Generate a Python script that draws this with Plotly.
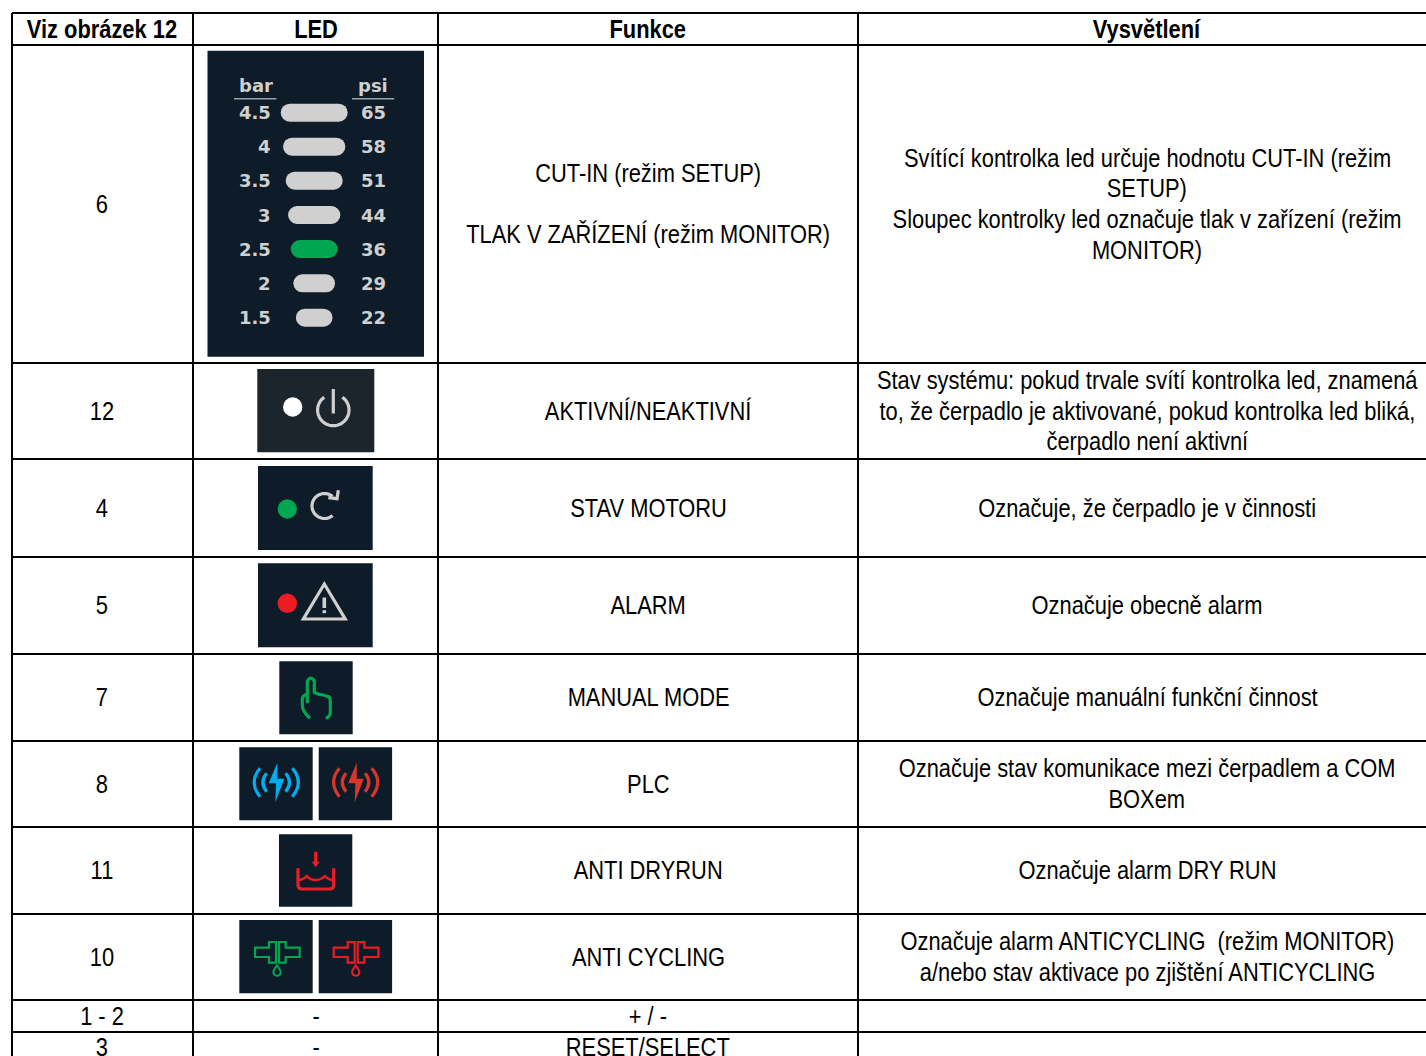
import re, math
import plotly.graph_objects as go

FONT = "Liberation Sans"
col_edges = [12, 193, 438, 858, 1440]
row_edges = [13, 45, 363, 459, 557, 654, 741, 827, 914, 1000, 1032, 1062]
headers = ["Viz obrázek 12", "LED", "Funkce", "Vysvětlení"]
refs = ["6", "12", "4", "5", "7", "8", "11", "10", "1 - 2", "3"]
led_col = ["", "", "", "", "", "", "", "", "-", "-"]
funkce = [
    ["CUT-IN (režim SETUP)", "", "TLAK V ZAŘÍZENÍ (režim MONITOR)"],
    ["AKTIVNÍ/NEAKTIVNÍ"], ["STAV MOTORU"], ["ALARM"], ["MANUAL MODE"], ["PLC"],
    ["ANTI DRYRUN"], ["ANTI CYCLING"], ["+ / -"], ["RESET/SELECT"],
]
vysvetleni = [
    ["Svítící kontrolka led určuje hodnotu CUT-IN (režim", "SETUP)",
     "Sloupec kontrolky led označuje tlak v zařízení (režim", "MONITOR)"],
    ["Stav systému: pokud trvale svítí kontrolka led, znamená",
     "to, že čerpadlo je aktivované, pokud kontrolka led bliká,", "čerpadlo není aktivní"],
    ["Označuje, že čerpadlo je v činnosti"],
    ["Označuje obecně alarm"],
    ["Označuje manuální funkční činnost"],
    ["Označuje stav komunikace mezi čerpadlem a COM", "BOXem"],
    ["Označuje alarm DRY RUN"],
    ["Označuje alarm ANTICYCLING  (režim MONITOR)", "a/nebo stav aktivace po zjištění ANTICYCLING"],
    [""], [""],
]
bar_labels = ["4.5", "4", "3.5", "3", "2.5", "2", "1.5"]
psi_labels = ["65", "58", "51", "44", "36", "29", "22"]
led_y = [112.7, 146.7, 180.7, 215, 249, 283.3, 317.7]
led_len = [67, 62.3, 57, 52.3, 47, 41.7, 36.7]

DARK, DARK2, GREY = "#0d1c28", "#1c242c", "#d0d0d0"
GREEN, RED, BLUE, RED2 = "#00a651", "#ed1c24", "#00aeef", "#d9362a"
led_colors = [GREY, GREY, GREY, GREY, GREEN, GREY, GREY]

fig = go.Figure()
shapes, ann = [], []

def zp(ox, oy, s):
    """path written in zoomed (3x) local coordinates"""
    i = [0]
    def rep(m):
        v = float(m.group(0)) / 3 + (ox if i[0] % 2 == 0 else oy)
        i[0] += 1
        return f"{v:.2f}"
    return re.sub(r"-?\d+(\.\d+)?", rep, s)

def P(path, color=None, fill=None, w=3.2):
    shapes.append(dict(type="path", path=path, xref="x", yref="y", layer="above",
                       line=dict(color=color or "rgba(0,0,0,0)", width=w if color else 0),
                       fillcolor=fill or "rgba(0,0,0,0)"))

def panel(x0, y0, x1, y1, c=DARK):
    shapes.append(dict(type="rect", x0=x0, x1=x1, y0=y0, y1=y1, xref="x", yref="y", layer="below",
                       fillcolor=c, line=dict(width=0)))

def arc(cx, cy, r, a0, a1, n=40):
    pts = [(cx + r * math.sin(math.radians(a0 + (a1 - a0) * k / n)),
            cy - r * math.cos(math.radians(a0 + (a1 - a0) * k / n))) for k in range(n + 1)]
    return "M " + " L ".join(f"{x:.2f} {y:.2f}" for x, y in pts)

# grid
for x in col_edges[:-1]:
    shapes.append(dict(type="line", x0=x, x1=x, y0=row_edges[0], y1=1056, xref="x", yref="y",
                       layer="below", line=dict(color="black", width=2)))
for y in row_edges[:-1]:
    shapes.append(dict(type="line", x0=col_edges[0], x1=1426, y0=y, y1=y, xref="x", yref="y",
                       layer="below", line=dict(color="black", width=2)))

def text(x, y, s, size=25, bold=False, color="black", family=FONT, anchor="center"):
    if not s:
        return
    ann.append(dict(x=x, y=y, xref="x", yref="y", text=f"<b>{s}</b>" if bold else s, showarrow=False,
                    xanchor=anchor, yanchor="middle", align="center",
                    font=dict(family=family, size=size, color=color)))

centers = [102, 315.5, 648, 1147]
PITCH = 30.6
for c, h in zip(centers, headers):
    text(c, 28.5, h, bold=True)
for r in range(len(refs)):
    mid = (row_edges[r + 1] + row_edges[r + 2]) / 2 - 0.3
    text(centers[0], mid, refs[r])
    text(centers[1], mid, led_col[r])
    for col, lines in ((2, funkce[r]), (3, vysvetleni[r])):
        n = len(lines)
        for i, ln in enumerate(lines):
            text(centers[col], mid + (i - (n - 1) / 2) * PITCH, ln)

# pressure panel
panel(207.5, 50.7, 424, 356.7)
P("M 234 98.7 L 276.3 98.7", "#9aa3aa", w=1.5)
P("M 352 98.7 L 394.3 98.7", "#9aa3aa", w=1.5)
PF = "DejaVu Sans"
text(256, 85.6, "bar", size=18, bold=True, color=GREY, family=PF)
text(373, 85.6, "psi", size=18, bold=True, color=GREY, family=PF)
for y, b, p in zip(led_y, bar_labels, psi_labels):
    text(272.5, y, b, size=18, bold=True, color=GREY, family=PF, anchor="right")
    text(373, y, p, size=18, bold=True, color=GREY, family=PF)
fig.add_trace(go.Bar(orientation="h", y=led_y, x=led_len, base=[314.2 - w / 2 for w in led_len],
                     width=18, marker=dict(color=led_colors, line=dict(width=0))))

# power
panel(257.3, 369, 374.3, 452.3, DARK2)
P(arc(333.3, 410, 15.7, 35, 325), GREY)
P("M 333.3 389 L 333.3 413.5", GREY)
# refresh
panel(258, 466, 372.7, 550)
P(arc(324.5, 506, 12.5, 40, -220), GREY)
P(zp(195, 362, "M 430 385 L 426 410 L 400 407"), GREY)
# alarm
panel(258, 563.3, 372.7, 647.3)
P("M 324.3 584 L 345.2 619 L 303.4 619 Z", GREY)
P("M 324.3 597.5 L 324.3 608", GREY, w=3.6)
P("M 324.3 610.2 L 324.3 613.2", GREY, w=3.6)
# hand
panel(279.3, 661.3, 352.7, 734.3)
P(zp(195, 555, "M 345 490 Q 322 470 322 450 L 322 430 Q 324 420 336 418 M 337 445 L 337 378 Q 347 360 358 378 "
               "L 358 412 L 372 418 L 385 420 L 402 426 Q 406 430 406 440 L 406 470 Q 405 488 392 489"), GREEN)
# PLC
for ox, panx, c in ((195, 239.3, BLUE), (195 + 79.4, 318.7, RED2)):
    panel(panx, 747.3, panx + 73.4, 820.3)
    P(zp(ox, 740, "M 195 85 Q 160 127 195 170"), c)
    P(zp(ox, 740, "M 215 100 Q 192 127 215 155"), c)
    P(zp(ox, 740, "M 292 85 Q 328 127 292 170"), c)
    P(zp(ox, 740, "M 272 100 Q 295 127 272 155"), c)
    P(zp(ox, 740, "M 247 68 L 221 130 L 243 130 L 241 187 L 268 116 L 247 116 Z"), fill=c)
# dry run
panel(279, 834.3, 352.3, 906.7)
P(zp(195, 740, "M 362 335 L 362 366"), RED)
P(zp(195, 740, "M 350 365 L 374 365 L 362 382 Z"), fill=RED)
P(zp(195, 740, "M 309 385 L 309 435 Q 309 447 321 447 L 404 447 Q 416 447 416 435 L 416 385"), RED)
P(zp(195, 740, "M 309 420 Q 325 420 335 408 Q 345 420 362 420 Q 378 420 390 408 Q 400 420 416 420"), RED, w=2.4)
# anti cycling
for ox, panx, c in ((195, 239.3, GREEN), (195 + 78.7, 318.7, RED)):
    panel(panx, 920, panx + 73.4, 993.3)
    P(zp(ox, 912, "M 243 90 L 222 90 L 222 107 L 180 107 L 180 135 L 222 135 L 222 152 L 243 152 Z"), c, w=2.2)
    P(zp(ox, 912, "M 252 90 L 272 90 L 272 107 L 314 107 L 314 135 L 272 135 L 272 152 L 252 152 Z"), c, w=2.2)
    P(zp(ox, 912, "M 246 160 Q 235 175 235 180 Q 236 191 246 191 Q 257 191 257 180 Q 257 175 246 160 Z"), c, w=2)

# LED dots
fig.add_trace(go.Scatter(x=[292.7, 287.3, 287.3], y=[407, 509, 603.3], mode="markers",
                         marker=dict(size=19.4, color=["#ffffff", GREEN, RED], line=dict(width=0))))

fig.update_layout(
    width=1426, height=1056, margin=dict(l=0, r=0, t=0, b=0), showlegend=False,
    paper_bgcolor="white", plot_bgcolor="white", barcornerradius=9, hovermode=False,
    xaxis=dict(range=[0, 1426], visible=False, fixedrange=True),
    yaxis=dict(range=[1056, 0], visible=False, fixedrange=True),
    shapes=shapes, annotations=ann,
)
# No narrow font is installed: condense the Liberation Sans annotation text horizontally about its centre.
post = """
document.body.style.margin='0';document.body.style.overflow='hidden';
function condense(){
  document.querySelectorAll('text.annotation-text').forEach(function(t){
    if(t.dataset.cond||t.style.fontFamily.indexOf('Liberation')<0) return;
    var b=t.getBBox(), c=b.x+b.width/2;
    t.setAttribute('transform','translate('+c+',0) scale(0.875,1) translate('+(-c)+',0)');
    t.dataset.cond='1';
  });
}
condense(); setTimeout(condense,50); setTimeout(condense,300);
"""
fig.write_html("out.html", config=dict(displayModeBar=False), post_script=post)
